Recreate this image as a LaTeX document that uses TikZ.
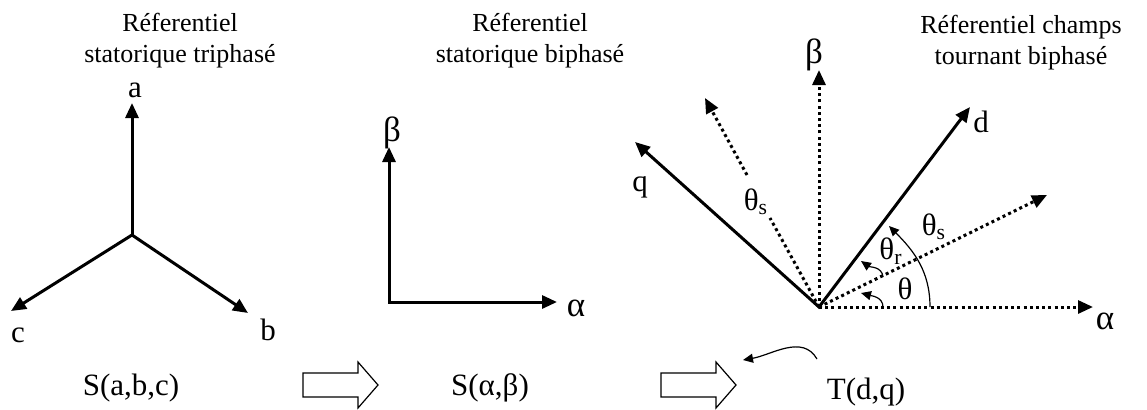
\documentclass[tikz,border=0pt]{standalone}
\usepackage{fontspec}
\setmainfont{Liberation Serif}
\usetikzlibrary{arrows.meta}

\begin{document}
\begin{tikzpicture}[x=0.5pt, y=0.5pt,
    >={Triangle[length=7.5pt, width=6.5pt]},
    axis/.style={line width=1.5pt, ->},
    dotaxis/.style={axis, dash pattern=on 1.5pt off 1.6pt},
    angarc/.style={line width=0.6pt, -{Triangle[length=5pt, width=4.5pt]}},
    hdr/.style={font=\fontsize{13}{15.5}\selectfont, align=center, anchor=north, inner sep=0pt},
    lbl/.style={font=\fontsize{15.5}{18}\selectfont, inner sep=0pt},
    greek/.style={font=\fontsize{17.5}{20}\selectfont, inner sep=0pt},
    hollow/.style={line width=0.6pt}]
  \useasboundingbox (0,0) rectangle (1147,409);

  %--- Headers ---
  \node[hdr] (hdrTri) at (180,396)  {Réferentiel\\statorique triphasé};
  \node[hdr] (hdrBi)  at (530,396)  {Réferentiel\\statorique biphasé};
  \node[hdr] (hdrRot) at (1021,394) {Réferentiel champs\\tournant biphasé};

  %--- Three-phase star (a,b,c) ---
  \coordinate (O1)   at (132,174);
  \coordinate (tipA) at (132,306);
  \coordinate (tipB) at (248,96);
  \coordinate (tipC) at (11,98);
  \foreach \t in {tipA,tipB,tipC}
    \draw[axis] (O1) -- (\t);
  \node[lbl] (lblA) at (135,319) {a};
  \node[lbl] (lblB) at (268,79)  {b};
  \node[lbl] (lblC) at (18,74)   {c};

  %--- Two-phase stator frame (alpha,beta) ---
  \coordinate (O2)       at (389,107);
  \coordinate (tipBeta)  at (389,262);
  \coordinate (tipAlpha) at (557,107);
  \draw[axis, <->] (tipBeta) -- (O2) -- (tipAlpha);
  \node[greek] (lblBeta)  at (392,276) {β};
  \node[greek] (lblAlpha) at (576,101) {α};

  %--- Rotating frame (d,q) ---
  \coordinate (O3)      at (819,102);
  \coordinate (tipAx)   at (1093,102);
  \coordinate (tipBx)   at (819,339);
  \coordinate (tipRot)  at (1047,214);
  \coordinate (gapLow)  at (770,191);
  \coordinate (gapHigh) at (747,234);
  \coordinate (tipUL)   at (705,311);
  \coordinate (tipD)    at (970,302);
  \coordinate (tipQ)    at (635,267);
  \draw[dotaxis] (O3) -- (tipAx);
  \draw[dotaxis] (O3) -- (tipBx);
  \draw[dotaxis] (O3) -- (tipRot);
  \draw[dotaxis, -] (O3) -- (gapLow);
  \draw[dotaxis] (gapHigh) -- (tipUL);
  \draw[axis, <->] (tipQ) -- (O3) -- (tipD);

  % angle arrows
  \coordinate (thA)  at (883,102);
  \coordinate (thB)  at (861,116);
  \coordinate (thrA) at (883,132);
  \coordinate (thrB) at (861,148);
  \coordinate (thsA) at (930,102);
  \coordinate (thsB) at (889,183);
  \draw[angarc] (thA)  to[out=90, in=-15] (thB);
  \draw[angarc] (thrA) to[out=95, in=-35] (thrB);
  \draw[angarc] (thsA) to[out=90, in=-45] (thsB);

  \node[lbl] (lblD)    at (981,287)  {d};
  \node[lbl] (lblQ)    at (640,222)  {q};
  \node[greek] (lblBx) at (814,354)  {β};
  \node[greek] (lblAx) at (1105,88)  {α};
  \node[lbl] (lblThsL) at (756,207)  {θ\textsubscript{s}};
  \node[lbl] (lblThsR) at (934,182)  {θ\textsubscript{s}};
  \node[lbl] (lblThr)  at (891,158)  {θ\textsubscript{r}};
  \node[lbl] (lblTh)   at (905,120)  {θ};

  %--- Bottom row: names and hollow arrows ---
  \node[lbl] (nameTri) at (131,21) {S(a,b,c)};
  \node[lbl] (nameBi)  at (490,21) {S(α,β)};
  \node[lbl] (nameRot) at (866,17) {T(d,q)};
  \foreach \x in {303,661}
    \draw[hollow] (\x,12) -- ++(55,0) -- ++(0,-11) -- ++(20,23)
      -- ++(-20,23) -- ++(0,-11) -- ++(-55,0) -- cycle;

  \coordinate (curlA) at (817,50);
  \coordinate (curlB) at (743,49);
  \draw[angarc] (curlA) to[out=120, in=10] (curlB);

\end{tikzpicture}
\end{document}
